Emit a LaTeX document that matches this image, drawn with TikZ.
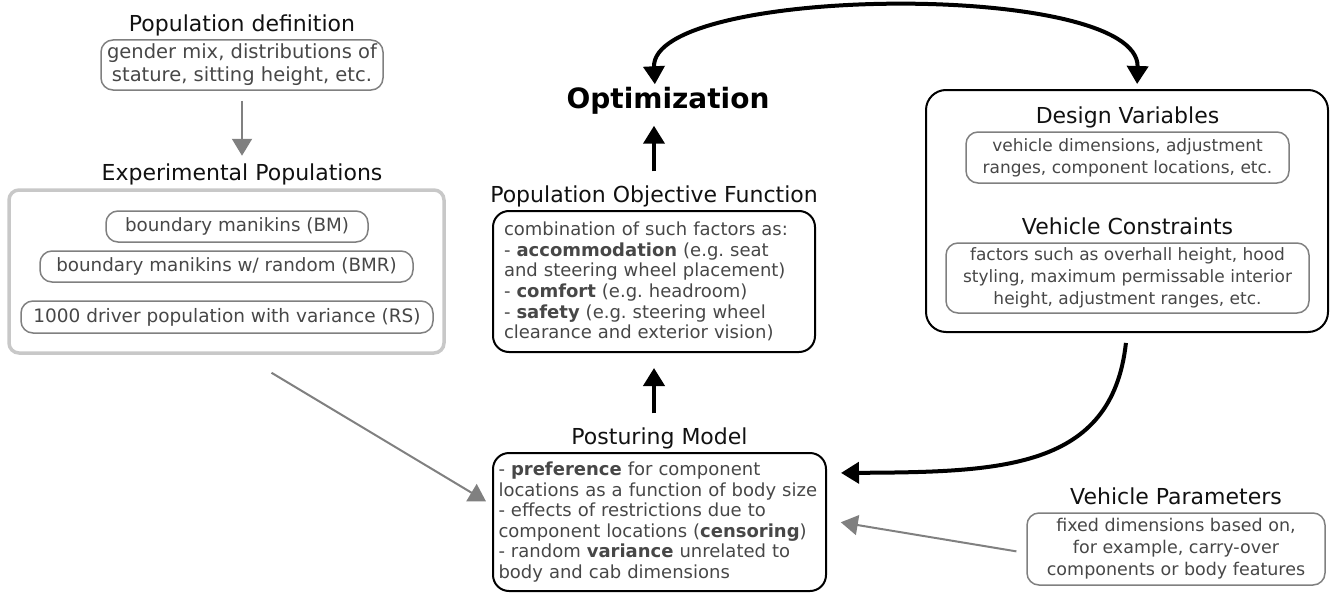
\documentclass[tikz,border=0pt]{standalone}
\usepackage{fontspec}
\setmainfont{DejaVu Sans}
\usepackage{tikz}
\usetikzlibrary{positioning, arrows.meta}
\definecolor{bodygray}{HTML}{474747}
\definecolor{boxgray}{HTML}{808080}
\definecolor{framegray}{HTML}{C8C8C8}
\definecolor{titleblack}{HTML}{111111}

\begin{document}
\frenchspacing
\begin{tikzpicture}[x=1pt, y=-1pt, node distance=5pt]
	\tikzstyle{title} = [font=\fontsize{22}{26}\selectfont, text=titleblack, inner sep=0pt, text depth=0.25em]
	
	\tikzstyle{graybox} = [rectangle, rounded corners=12pt, draw=boxgray, line width=1.5pt, text=bodygray, align=center, inner sep=0pt, font=\fontsize{17}{22}\selectfont]
	
	\tikzstyle{bigbox} = [rectangle, rounded corners=10pt, draw=framegray, line width=3.5pt]
	
	\tikzstyle{blackbox} = [rectangle, rounded corners=16pt, draw=black, line width=2pt, text=bodygray, align=left, font=\fontsize{18}{20.6}\selectfont]
	
	\tikzstyle{grayarrow} = [-{Triangle[width=20pt,length=17pt]}, draw=boxgray, line width=2pt]
	\tikzstyle{blackarrow} = [-{Triangle[width=21pt,length=18pt]}, line width=4pt]
	
	\useasboundingbox (0,0) rectangle (1330,594);
	
	% Population side
	\node (popdef) [graybox, font=\fontsize{19.5}{23}\selectfont, minimum width=282pt, minimum height=50pt] at (242,65) {gender mix, distributions of\\stature, sitting height, etc.};
	\node (popdeftitle) [title, above=of popdef] {Population definition};
	\node (exptitle) [title, below=73pt of popdef] {Experimental Populations};
	\node (exppop) [bigbox, minimum width=435pt, minimum height=163pt] at (226.5,271.5) {};
	\node (bm) [graybox, font=\fontsize{18.3}{22}\selectfont, minimum width=262pt, minimum height=31pt] at (237,226.5) {boundary manikins (BM)};
	\node (bmr) [graybox, font=\fontsize{18.3}{22}\selectfont, minimum width=373pt, minimum height=31pt] at (226.5,266.5) {boundary manikins w/ random (BMR)};
	\node (rs) [graybox, font=\fontsize{18.5}{22}\selectfont, minimum width=412pt, minimum height=32pt] at (227,317) {1000 driver population with variance (RS)};
	
	% Middle column
	\node (opt) [font=\fontsize{28}{32}\selectfont\bfseries, inner sep=0pt] at (668,101) {Optimization};
	\node (pof) [blackbox, text width=300pt, inner xsep=11pt, minimum height=141pt] at (654,281.5) {combination of such factors as:\\
		- \textbf{accommodation} (e.g. seat\\
		and steering wheel placement)\\
		- \textbf{comfort} (e.g. headroom)\\
		- \textbf{safety} (e.g. steering wheel\\
		clearance and exterior vision)};
	\node (poftitle) [title, above=of pof] {Population Objective Function};
	\node (pm) [blackbox, text width=322pt, inner xsep=5.5pt, minimum height=138pt] at (659.5,522) {- \textbf{preference} for component\\
		locations as a function of body size\\
		- effects of restrictions due to\\
		component locations (\textbf{censoring})\\
		- random \textbf{variance} unrelated to\\
		body and cab dimensions};
	\node (pmtitle) [title, above=of pm] {Posturing Model};
	
	% Vehicle side
	\node (design) [blackbox, rounded corners=20pt, minimum width=402pt, minimum height=242pt] at (1127,211) {};
	\node (dv) [graybox, minimum width=323pt, minimum height=51pt] at (1127.5,157.5) {vehicle dimensions, adjustment\\ranges, component locations, etc.};
	\node (dvtitle) [title, above=of dv] {Design Variables};
	\node (vc) [graybox, minimum width=363pt, minimum height=70pt] at (1127.5,278) {factors such as overhall height, hood\\styling, maximum permissable interior\\height, adjustment ranges, etc.};
	\node (vctitle) [title, above=of vc] {Vehicle Constraints};
	\node (vp) [graybox, font=\fontsize{17.5}{22}\selectfont, minimum width=298pt, minimum height=72pt] at (1176,549) {fixed dimensions based on,\\for example, carry-over\\components or body features};
	\node (vptitle) [title, above=of vp] {Vehicle Parameters};
	
	% Arrows
	\draw [grayarrow, shorten <=10pt, shorten >=8pt] (popdef.south) -- (exptitle.north);
	\draw [grayarrow, shorten >=7pt] ([xshift=45pt, yshift=-18pt]exppop.south) -- ([yshift=17pt]pm.west);
	\draw [grayarrow, shorten <=10pt, shorten >=14pt] ([yshift=-4pt]vp.west) -- ([yshift=2pt]pm.east);
	\draw [blackarrow, shorten <=14pt, shorten >=11pt] (poftitle.north) -- (poftitle.north |- opt.south);
	\draw [blackarrow, shorten <=14pt, shorten >=15pt] (pof.south |- pmtitle.north) -- (pof.south);
	\draw [blackarrow, shorten <=10pt, shorten >=14pt] (design.south) .. controls (1112,470) and (1000,472) .. ([yshift=49pt]pm.east);
	\draw [{Triangle[width=21pt,length=18pt]}-{Triangle[width=21pt,length=18pt]}, line width=4pt, shorten <=3pt, shorten >=5pt] ([xshift=-13pt]opt.north) .. controls (650,-15) and (1140,-20) .. ([xshift=10pt]design.north);
\end{tikzpicture}
\end{document}
